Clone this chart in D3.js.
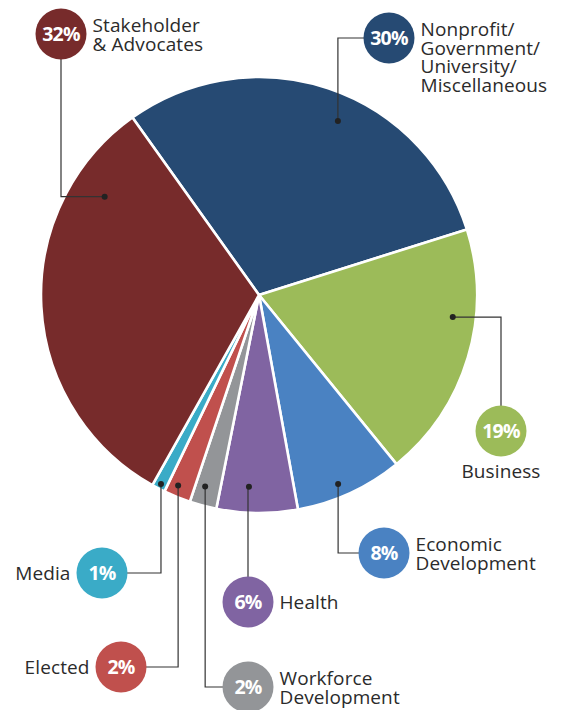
<!DOCTYPE html>
<html>
<head>
<meta charset="utf-8">
<script src="https://cdn.jsdelivr.net/npm/d3@7"></script>
<style>
  body { margin: 0; background: #fff; }
  svg { display: block; }
</style>
</head>
<body>
<svg id="canvas"></svg>
<script>
// slice data, clockwise from the Nonprofit slice
const categories = ["Nonprofit", "Business", "Economic", "Health", "Workforce", "Elected", "Media", "Stakeholder"];
const shares = [30, 19, 8, 6, 2, 2, 1, 32];
const labelLines = [
    ["Nonprofit/", "Government/", "University/", "Miscellaneous"],
    ["Business"],
    ["Economic", "Development"],
    ["Health"],
    ["Workforce", "Development"],
    ["Elected"],
    ["Media"],
    ["Stakeholder", "& Advocates"]
];
const colors = ["#264a73", "#9cbb59", "#4a82c2", "#8064a2", "#939598", "#c0504d", "#3aabc7", "#772b2b"];

// where each callout sits: dot angle (deg) & radius, badge centre, elbow, text side
const callouts = [
    { da: 24.4, dr: 191, x: 389, y: 38, elbow: "v", side: "right" },
    { da: 96.5, dr: 195, x: 501, y: 431, elbow: "h", side: "below" },
    { da: 157.3, dr: 205, x: 384, y: 553, elbow: "v", side: "right" },
    { da: 183.0, dr: 192, x: 248, y: 602, elbow: "h", side: "right" },
    { da: 195.7, dr: 199, x: 248, y: 687, elbow: "v", side: "right" },
    { da: 203.0, dr: 207, x: 121, y: 667, elbow: "v", side: "left" },
    { da: 207.4, dr: 213, x: 102, y: 573, elbow: "v", side: "left" },
    { da: 302.5, dr: 183, x: 61, y: 34, elbow: "h", side: "right" }
];

const width = 564, height = 710;
const svg = d3.select("#canvas").attr("width", width).attr("height", height);

const cx = 259, cy = 295;
const radius = 218;
const badgeR = 25.5;
const font = "'Open Sans', 'Noto Sans', sans-serif";

const start = -35.5 * Math.PI / 180;
const pie = d3.pie().sort(null).value(d => d).startAngle(start).endAngle(start + 2 * Math.PI);
const arcs = pie(shares);
const arc = d3.arc().innerRadius(0).outerRadius(radius);

const g = svg.append("g").attr("transform", `translate(${cx},${cy})`);
g.selectAll("path")
    .data(arcs)
    .join("path")
    .attr("d", arc)
    .attr("fill", (d, i) => colors[i])
    .attr("stroke", "#fff")
    .attr("stroke-width", 2.6)
    .attr("stroke-linejoin", "round");

// polar -> page coords (angle clockwise from top)
const polar = (deg, r) => {
    const a = deg * Math.PI / 180;
    return [cx + r * Math.sin(a), cy - r * Math.cos(a)];
};

// leader lines
callouts.forEach((c, i) => {
    const [px, py] = polar(c.da, c.dr);
    const path = d3.path();
    path.moveTo(px, py);
    if (c.elbow === "h") path.lineTo(c.x, py);
    else path.lineTo(px, c.y);
    path.lineTo(c.x, c.y);
    svg.append("path")
        .attr("d", path.toString())
        .attr("fill", "none")
        .attr("stroke", "#333")
        .attr("stroke-width", 1.2);
    svg.append("circle")
        .attr("cx", px).attr("cy", py).attr("r", 3)
        .attr("fill", "#222");
});

// badges + text
callouts.forEach((c, i) => {
    svg.append("circle")
        .attr("cx", c.x).attr("cy", c.y).attr("r", badgeR)
        .attr("fill", colors[i]);
    svg.append("text")
        .attr("x", c.x).attr("y", c.y + 7)
        .attr("text-anchor", "middle")
        .attr("font-family", font)
        .attr("font-weight", 700)
        .attr("font-size", 19.5)
        .attr("letter-spacing", -0.8)
        .attr("fill", "#fff")
        .text(shares[i] + "%");

    const lines = labelLines[i];
    let tx, ty, anchor;
    if (c.side === "right") { tx = c.x + badgeR + 6; anchor = "start"; }
    else if (c.side === "left") { tx = c.x - badgeR - 6; anchor = "end"; }
    else { tx = c.x; anchor = "middle"; }
    if (c.side === "below") ty = c.y + badgeR + 21;
    else ty = lines.length === 1 ? c.y + 7 : c.y - 2;

    const t = svg.append("text")
        .attr("font-family", font)
        .attr("font-size", 19)
        .attr("letter-spacing", 0.1)
        .attr("fill", "#2b2b2b")
        .attr("text-anchor", anchor);
    lines.forEach((ln, k) => {
        t.append("tspan").attr("x", tx).attr("y", ty + k * 18.5).text(ln);
    });
});
</script>
</body>
</html>
